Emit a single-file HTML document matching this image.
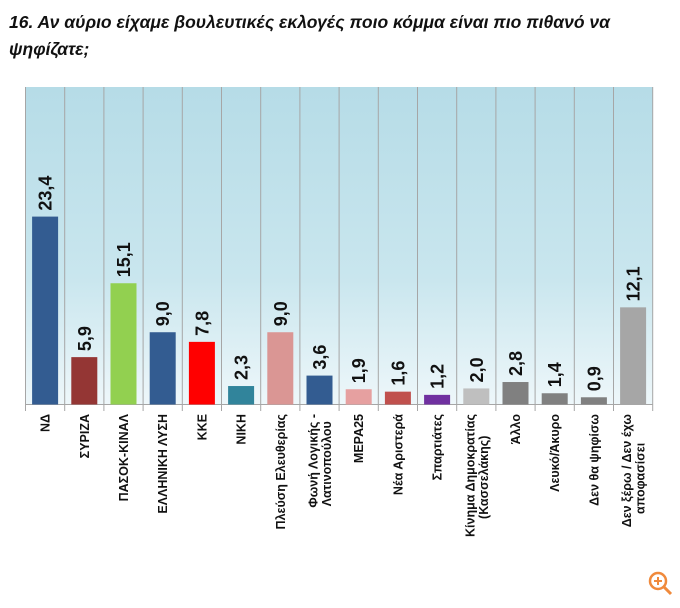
<!DOCTYPE html>
<html><head><meta charset="utf-8"><style>
body{margin:0;background:#fff;width:680px;height:603px;overflow:hidden}
</style></head><body>
<svg width="680" height="603" xmlns="http://www.w3.org/2000/svg" font-family="Liberation Sans, DejaVu Sans, sans-serif">
<defs><linearGradient id="g" x1="0" y1="0" x2="0" y2="1"><stop offset="0" stop-color="#b6dce7"/><stop offset="0.6" stop-color="#c9e6ee"/><stop offset="1" stop-color="#eef7fa"/></linearGradient></defs>
<text x="9" y="28" font-size="17.5" font-weight="bold" font-style="italic" fill="#111">16. Αν αύριο είχαμε βουλευτικές εκλογές ποιο κόμμα είναι πιο πιθανό να</text>
<text x="9" y="55" font-size="17.5" font-weight="bold" font-style="italic" fill="#111">ψηφίζατε;</text>
<rect x="25.5" y="87" width="627" height="318" fill="url(#g)"/>
<g id="bars"></g>
</svg>
<script>
var d=[["ΝΔ",23.4,"#335c91"],["ΣΥΡΙΖΑ",5.9,"#943634"],["ΠΑΣΟΚ-ΚΙΝΑΛ",15.1,"#92d050"],["ΕΛΛΗΝΙΚΗ ΛΥΣΗ",9.0,"#335c91"],["ΚΚΕ",7.8,"#ff0000"],["ΝΙΚΗ",2.3,"#31849b"],["Πλεύση Ελευθερίας",9.0,"#da9694"],["Φωνή Λογικής -|Λατινοπούλου",3.6,"#335c91"],["ΜΕΡΑ25",1.9,"#e6a0a0"],["Νέα Αριστερά",1.6,"#c0504d"],["Σπαρτιάτες",1.2,"#7030a0"],["Κίνημα Δημοκρατίας|(Κασσελάκης)",2.0,"#bfbfbf"],["Άλλο",2.8,"#808080"],["Λευκό/Άκυρο",1.4,"#808080"],["Δεν θα ψηφίσω",0.9,"#808080"],["Δεν ξέρω / Δεν έχω|αποφασίσει",12.1,"#a6a6a6"]];
var s="",L=25.5,W=39.2,B=404.5,k=8.03,fs=12.5;
for(var i=0;i<=16;i++){var x=L+i*W;s+='<line x1="'+x+'" y1="87" x2="'+x+'" y2="411" stroke="#a6a6a6" stroke-width="1"/>';}
s+='<line x1="'+L+'" y1="'+B+'" x2="'+(L+16*W)+'" y2="'+B+'" stroke="#a6a6a6"/>';
d.forEach(function(r,i){var c=L+i*W+W/2,h=r[1]*k,t=B-h;
s+='<rect x="'+(c-13)+'" y="'+t+'" width="26" height="'+h+'" fill="'+r[2]+'"/>';
var v=r[1].toFixed(1).replace(".",",");
s+='<text transform="translate('+(c+6.5)+','+(t-6)+') rotate(-90)" font-size="18" font-weight="bold" fill="#111">'+v+'</text>';
var ls=r[0].split("|");
if(ls.length==1){s+='<text transform="translate('+(c+4.5)+',414) rotate(-90)" text-anchor="end" font-size="'+fs+'" font-weight="bold" fill="#111">'+ls[0]+'</text>';}
else{s+='<text transform="translate('+(c-2)+',414) rotate(-90)" text-anchor="end" font-size="'+fs+'" font-weight="bold" fill="#111">'+ls[0]+'</text>';
var w0=ls[0].length*7.2,w1=ls[1].length*7.2;
s+='<text transform="translate('+(c+11.5)+','+(414+(w0-w1)/2)+') rotate(-90)" text-anchor="end" font-size="'+fs+'" font-weight="bold" fill="#111">'+ls[1]+'</text>';}
});
s+='<circle cx="658" cy="581" r="8" fill="none" stroke="#f08a3c" stroke-width="2.5"/><line x1="664" y1="587" x2="671" y2="594" stroke="#f08a3c" stroke-width="3"/><line x1="654" y1="581" x2="662" y2="581" stroke="#f08a3c" stroke-width="2"/><line x1="658" y1="577" x2="658" y2="585" stroke="#f08a3c" stroke-width="2"/>';
document.getElementById("bars").innerHTML=s;
</script>
</body></html>
